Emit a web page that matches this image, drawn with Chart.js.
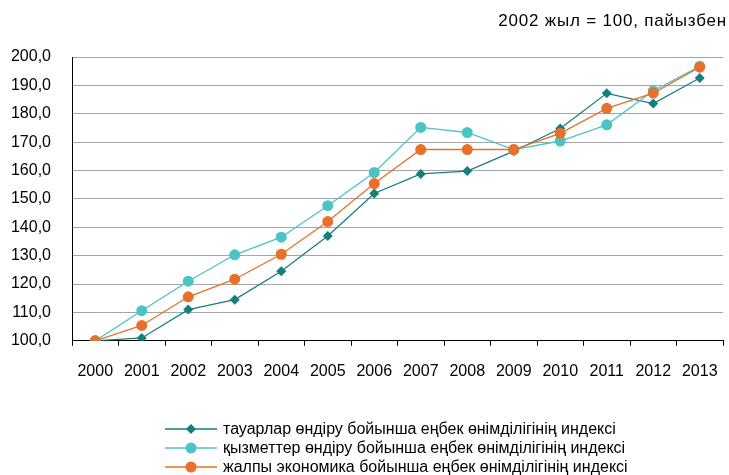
<!DOCTYPE html>
<html>
<head>
<meta charset="utf-8">
<script src="https://cdn.jsdelivr.net/npm/chart.js@4.4.1/dist/chart.umd.min.js"></script>
<style>
  html, body { margin: 0; padding: 0; background: #fff; }
  #wrap { position: relative; width: 729px; height: 475px; font-family: "Liberation Sans", Arial, sans-serif; }
  #title { position: absolute; right: 2px; top: 11px; font-size: 17px; letter-spacing: 0.8px; color: #000; white-space: nowrap; }
  #legend { position: absolute; left: 165px; top: 419px; font-size: 16px; color: #000; }
  .row { display: flex; align-items: center; height: 19px; white-space: nowrap; }
  .row svg { margin-right: 6px; }
</style>
</head>
<body>
<div id="wrap">
  <canvas id="c" width="729" height="475"></canvas>
  <div id="title">2002 жыл = 100, пайызбен</div>
  <div id="legend"></div>
</div>
<script>
const years = ["2000","2001","2002","2003","2004","2005","2006","2007","2008","2009","2010","2011","2012","2013"];
const goodsIndex    = [100, 101.0, 111.0, 114.5, 124.5, 136.9, 151.9, 158.8, 159.8, 166.8, 174.8, 187.2, 183.6, 192.6];
const servicesIndex = [100, 110.6, 121.0, 130.3, 136.5, 147.6, 159.3, 175.2, 173.4, 167.4, 170.4, 176.1, 188.1, 196.7];
const totalIndex    = [100, 105.4, 115.5, 121.7, 130.5, 142.0, 155.4, 167.4, 167.4, 167.4, 173.1, 181.9, 187.3, 196.4];
const seriesNames = [
  "тауарлар өндіру бойынша еңбек өнімділігінің индексі",
  "қызметтер өндіру бойынша еңбек өнімділігінің индексі",
  "жалпы экономика бойынша еңбек өнімділігінің индексі"
];
const colors = ["#167F7E", "#4CC4C6", "#E8702A"];
const FONT = '"Liberation Sans", Arial, sans-serif';

const ctx = document.getElementById('c');
new Chart(ctx, {
  type: 'line',
  data: {
    labels: years,
    datasets: [
      { label: seriesNames[0], data: goodsIndex, borderColor: colors[0], backgroundColor: colors[0],
        borderWidth: 1.3, pointStyle: 'rectRot', pointRadius: 5, pointBorderWidth: 0, order: 2 },
      { label: seriesNames[1], data: servicesIndex, borderColor: colors[1], backgroundColor: colors[1],
        borderWidth: 1.3, pointStyle: 'circle', pointRadius: 5.5, pointBorderWidth: 0, order: 1 },
      { label: seriesNames[2], data: totalIndex, borderColor: colors[2], backgroundColor: colors[2],
        borderWidth: 1.3, pointStyle: 'circle', pointRadius: 5.5, pointBorderWidth: 0, order: 0 }
    ]
  },
  options: {
    responsive: false,
    animation: false,
    layout: { padding: { left: 0, right: 6, top: 57, bottom: 78 } },
    plugins: { legend: { display: false }, title: { display: false }, tooltip: { enabled: false } },
    scales: {
      x: {
        offset: true,
        afterFit: (s) => { s.paddingRight = 0; s.paddingLeft = 0; },
        grid: { offset: true, drawOnChartArea: false, drawTicks: true, tickLength: 5, color: '#000' },
        border: { color: '#000', width: 1 },
        ticks: { color: '#000', font: { family: FONT, size: 16 }, padding: 16, maxRotation: 0 }
      },
      y: {
        min: 100, max: 200,
        afterFit: (s) => { s.width = 72; },
        grid: { color: '#A6A6A6', drawTicks: false, lineWidth: 1 },
        border: { color: '#000', width: 1 },
        ticks: {
          stepSize: 10, padding: 21, color: '#000',
          font: { family: FONT, size: 16 },
          callback: (v) => v.toFixed(1).replace('.', ',')
        }
      }
    }
  }
});

const leg = document.getElementById('legend');
seriesNames.forEach((name, i) => {
  const marker = i === 0
    ? `<polygon points="26,1 31,6 26,11 21,6" fill="${colors[i]}"/>`
    : `<circle cx="26" cy="6" r="5.5" fill="${colors[i]}"/>`;
  const row = document.createElement('div');
  row.className = 'row';
  row.innerHTML = `<svg width="52" height="12"><line x1="0" y1="6" x2="52" y2="6" stroke="${colors[i]}" stroke-width="1.3"/>${marker}</svg><span>${name}</span>`;
  leg.appendChild(row);
});
</script>
</body>
</html>
